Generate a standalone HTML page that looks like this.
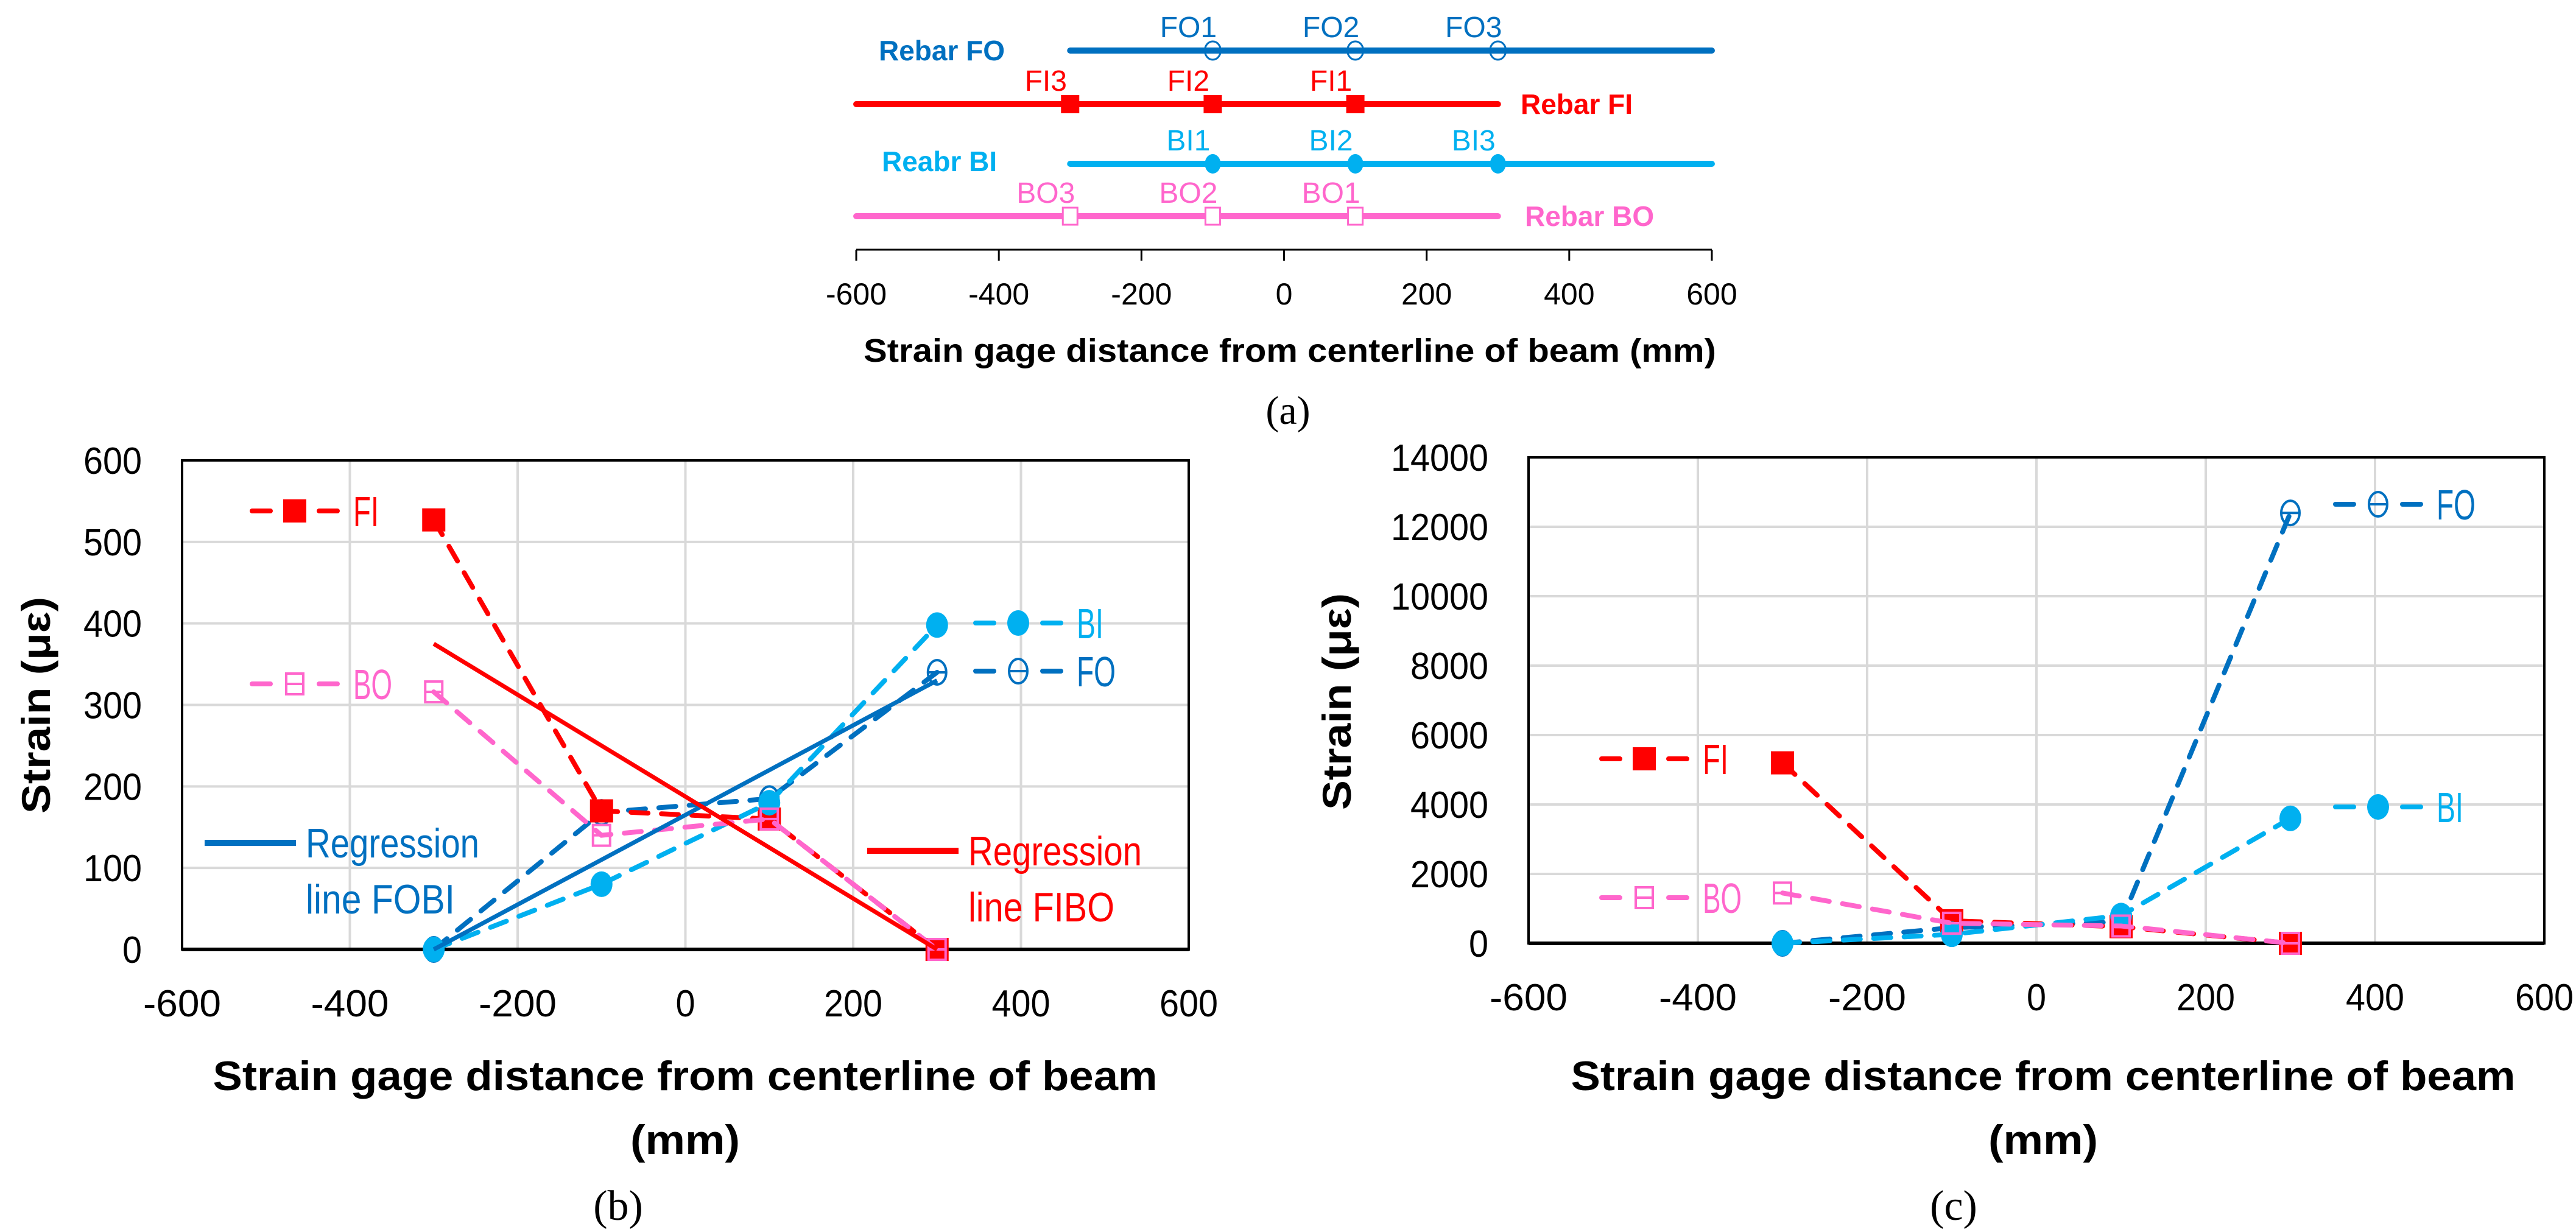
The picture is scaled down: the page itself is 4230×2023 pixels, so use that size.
<!DOCTYPE html>
<html><head><meta charset="utf-8"><style>
html,body{margin:0;padding:0;background:#fff}
svg{display:block}
text{font-family:"Liberation Sans",sans-serif}
text.serif{font-family:"Liberation Serif",serif}
</style></head><body>
<svg id="fig" width="4230" height="2023" viewBox="0 0 4230 2023" xmlns="http://www.w3.org/2000/svg"></svg>
<script>
// ---------- data ----------
const gaugePositions = [-300, -100, 100, 300];
const ticksX = [-600, -400, -200, 0, 200, 400, 600];
const ticksYb = [0, 100, 200, 300, 400, 500, 600];
const ticksYc = [0, 2000, 4000, 6000, 8000, 10000, 12000, 14000];
// panel (b)
const bFI = [527, 170, 160, 0];
const bBO = [316, 140, 160, 0];
const bBI = [0, 80, 180, 398];
const bFO = [0, 168, 185, 340];
const bRegFOBI = [0, 330];
const bRegFIBO = [375, 0];
// panel (c)
const cFI = [5200, 650, 480, 0];
const cBO = [1450, 580, 500, 0];
const cBI = [0, 260, 800, 3600];
const cFO = [0, 450, 620, 12400];
// panel (a) gauge positions
const aFOpos = [-100, 100, 300];
const aFIpos = [-300, -100, 100];
const aBIpos = [-100, 100, 300];
const aBOpos = [-300, -100, 100];
const aFOlab = ["FO1", "FO2", "FO3"];
const aFIlab = ["FI3", "FI2", "FI1"];
const aBIlab = ["BI1", "BI2", "BI3"];
const aBOlab = ["BO3", "BO2", "BO1"];

const C = {FO:"#0070C0", FI:"#FF0000", BI:"#00B0F0", BO:"#FF66CC"};
const NS = "http://www.w3.org/2000/svg";
const svg = document.getElementById("fig");
function el(tag, attrs, parent){
  const e = document.createElementNS(NS, tag);
  for (const k in attrs) e.setAttribute(k, attrs[k]);
  (parent||svg).appendChild(e);
  return e;
}
function txt(s, attrs, parent){ const t = el("text", attrs, parent); t.textContent = s; return t; }

// ---------- panel (a) ----------
const ax = v => 2108.5 + v * 1.1708;
const ga = el("g", {});


function rebar(name, color, y, x0, x1, pos, labs, marker, title, tx, ty, anchor){
  const g = el("g", {}, ga);
  
  
  el("line", {x1:ax(x0), x2:ax(x1), y1:y, y2:y, stroke:color, "stroke-width":10, "stroke-linecap":"round"}, g);
  pos.forEach((p, i) => {
    const x = ax(p);
    let m;
    if (marker === "open-circle") m = el("ellipse", {cx:x, cy:y, rx:13, ry:15, fill:"none", stroke:color, "stroke-width":3}, g);
    else if (marker === "square") m = el("rect", {x:x-15, y:y-15, width:30, height:30, fill:color}, g);
    else if (marker === "circle") m = el("ellipse", {cx:x, cy:y, rx:13, ry:16, fill:color}, g);
    else m = el("rect", {x:x-12, y:y-14, width:24, height:28, fill:"#fff", stroke:color, "stroke-width":3}, g);
    
    
    const t = txt(labs[i], {x:x-40, y:y-22, "text-anchor":"middle", "font-size":48, fill:color}, g);
    
    
  });
  const tt = txt(title, {x:tx, y:ty, "font-size":46, "font-weight":"bold", fill:color, "text-anchor":anchor}, g);
  
  
}
rebar("rebar-fo", C.FO, 83, -300, 600, aFOpos, aFOlab, "open-circle", "Rebar FO", 1443, 99, "start");
rebar("rebar-fi", C.FI, 171, -600, 300, aFIpos, aFIlab, "square", "Rebar FI", 2497, 187, "start");
rebar("rebar-bi", C.BI, 269, -300, 600, aBIpos, aBIlab, "circle", "Reabr BI", 1448, 281, "start");
rebar("rebar-bo", C.BO, 355, -600, 300, aBOpos, aBOlab, "open-square", "Rebar BO", 2504, 371, "start");
// axis a
const axA = el("g", {}, ga);


el("line", {x1:ax(-600), x2:ax(600), y1:410, y2:410, stroke:"#000", "stroke-width":3}, axA);
ticksX.forEach(v => {
  el("line", {x1:ax(v), x2:ax(v), y1:410, y2:428, stroke:"#000", "stroke-width":3}, axA);
  const t = txt(String(v), {x:ax(v), y:500, "text-anchor":"middle", "font-size":50, fill:"#000"}, axA);
  
  
});
const at = txt("Strain gage distance from centerline of beam (mm)", {x:2118, y:594, "text-anchor":"middle", "font-size":54, "font-weight":"bold", fill:"#000", textLength:1400, lengthAdjust:"spacingAndGlyphs"}, axA);


const capA = txt("(a)", {x:2115, y:696, "text-anchor":"middle", "font-size":66, "class":"serif", fill:"#000"});



// ---------- chart builder ----------
function chart(cfg){
  const g = el("g", {});
  
  
  const X = v => cfg.L + (v + 600) / 1200 * (cfg.R - cfg.L);
  const Y = v => cfg.B - v / cfg.ymax * (cfg.B - cfg.T);
  const grid = el("g", {}, g);
  
  
  ticksX.forEach(v => el("line", {x1:X(v), x2:X(v), y1:cfg.T, y2:cfg.B, stroke:"#d9d9d9", "stroke-width":4}, grid));
  cfg.ticksY.forEach(v => el("line", {x1:cfg.L, x2:cfg.R, y1:Y(v), y2:Y(v), stroke:"#d9d9d9", "stroke-width":4}, grid));
  const frame = el("rect", {x:cfg.L, y:cfg.T, width:cfg.R-cfg.L, height:cfg.B-cfg.T, fill:"none", stroke:"#000", "stroke-width":4}, g);
  
  
  el("line", {x1:cfg.L, x2:cfg.R, y1:cfg.B, y2:cfg.B, stroke:"#000", "stroke-width":6}, g);
  ticksX.forEach(v => {
    const t = txt(String(v), {x:X(v), y:cfg.B + 110, "text-anchor":"middle", "font-size":62, fill:"#000", textLength:String(v).length*32, lengthAdjust:"spacingAndGlyphs"}, g);
    
    
  });
  cfg.ticksY.forEach(v => {
    const t = txt(String(v), {x:cfg.L - 66, y:Y(v) + 22, "text-anchor":"end", "font-size":62, fill:"#000", textLength:String(v).length*32, lengthAdjust:"spacingAndGlyphs"}, g);
    
    
  });
  const yt = txt("Strain (με)", {x:0, y:0, "text-anchor":"middle", "font-size":66, "font-weight":"bold", fill:"#000", textLength:356, lengthAdjust:"spacingAndGlyphs", transform:`translate(${cfg.ytx},${cfg.yty}) rotate(-90)`}, g);
  
  
  const xt = txt("Strain gage distance from centerline of beam", {x:cfg.xtc, y:1790, "text-anchor":"middle", "font-size":68, "font-weight":"bold", fill:"#000", textLength:1551, lengthAdjust:"spacingAndGlyphs"}, g);
  
  
  const xt2 = txt("(mm)", {x:cfg.xtc, y:1895, "text-anchor":"middle", "font-size":68, "font-weight":"bold", fill:"#000", textLength:180, lengthAdjust:"spacingAndGlyphs"}, g);
  
  
  const cap = txt(cfg.caption, {x:cfg.capx, y:2003, "text-anchor":"middle", "font-size":70, "class":"serif", fill:"#000"}, g);
  
  

  function marker(parent, kind, color, x, y){
    let m;
    if (kind === "square") m = el("rect", {x:x-19, y:y-19, width:38, height:38, fill:color}, parent);
    else if (kind === "circle") m = el("ellipse", {cx:x, cy:y, rx:18, ry:21, fill:color}, parent);
    else if (kind === "open-square") { m = el("g", {}, parent);
      el("rect", {x:x-14, y:y-17, width:28, height:34, fill:"none", stroke:color, "stroke-width":4}, m);
      el("line", {x1:x-14, x2:x+14, y1:y, y2:y, stroke:color, "stroke-width":4}, m); }
    else { m = el("g", {}, parent);
      el("ellipse", {cx:x, cy:y, rx:15, ry:20, fill:"none", stroke:color, "stroke-width":4}, m);
      el("line", {x1:x-15, x2:x+15, y1:y, y2:y, stroke:color, "stroke-width":4}, m); }
    return m;
  }
  cfg.series.forEach(s => {
    const sg = el("g", {}, g);
    
    
    const pts = gaugePositions.map((p, i) => X(p) + "," + Y(s.vals[i])).join(" ");
    el("polyline", {points:pts, fill:"none", stroke:C[s.key], "stroke-width":8, "stroke-dasharray":"28 22", "stroke-linecap":"round"}, sg);
    gaugePositions.forEach((p, i) => {
      const m = marker(sg, s.marker, C[s.key], X(p), Y(s.vals[i]));
      
      
    });
    const lg = el("g", {}, g);
    
    
    const lx = s.lx, ly = s.ly;
    el("line", {x1:lx-70, x2:lx-40, y1:ly, y2:ly, stroke:C[s.key], "stroke-width":8, "stroke-linecap":"round"}, lg);
    el("line", {x1:lx+40, x2:lx+70, y1:ly, y2:ly, stroke:C[s.key], "stroke-width":8, "stroke-linecap":"round"}, lg);
    marker(lg, s.marker, C[s.key], lx, ly);
    txt(s.key, {x:lx+96, y:ly+25, "font-size":70, fill:C[s.key], textLength:s.key==="FI"?42:s.key==="BI"?44:64, lengthAdjust:"spacingAndGlyphs"}, lg);
  });
  if (cfg.regs) cfg.regs.forEach(r => {
    const rg = el("g", {}, g);
    
    
    el("line", {x1:X(-300), y1:Y(r.vals[0]), x2:X(300), y2:Y(r.vals[1]), stroke:r.color, "stroke-width":7}, rg);
    el("line", {x1:r.lx, x2:r.lx+150, y1:r.ly, y2:r.ly, stroke:r.color, "stroke-width":10}, rg);
    txt("Regression", {x:r.lx+166, y:r.ly+24, "font-size":68, fill:r.color, textLength:285, lengthAdjust:"spacingAndGlyphs"}, rg);
    txt(r.label, {x:r.lx+166, y:r.ly+116, "font-size":68, fill:r.color, textLength:r.tw, lengthAdjust:"spacingAndGlyphs"}, rg);
  });
}

chart({name:"chart-panel-b", L:299, R:1952, T:756, B:1559, ymax:600, ticksY:ticksYb,
  ytx:82, yty:1158, xtc:1125, caption:"(b)", capx:1015,
  series:[
    {key:"FO", vals:bFO, marker:"open-circle", lx:1672, ly:1102},
    {key:"FI", vals:bFI, marker:"square", lx:484, ly:839},
    {key:"BI", vals:bBI, marker:"circle", lx:1672, ly:1023},
    {key:"BO", vals:bBO, marker:"open-square", lx:484, ly:1123}
  ],
  regs:[
    {name:"regression-fobi", vals:bRegFOBI, color:C.FO, lx:336, ly:1384, label:"line FOBI", tw:245},
    {name:"regression-fibo", vals:bRegFIBO, color:C.FI, lx:1424, ly:1397, label:"line FIBO", tw:240}
  ]});

chart({name:"chart-panel-c", L:2510, R:4178, T:751, B:1549, ymax:14000, ticksY:ticksYc,
  ytx:2218, yty:1152, xtc:3355, caption:"(c)", capx:3208,
  series:[
    {key:"FO", vals:cFO, marker:"open-circle", lx:3905, ly:828},
    {key:"FI", vals:cFI, marker:"square", lx:2700, ly:1246},
    {key:"BI", vals:cBI, marker:"circle", lx:3905, ly:1325},
    {key:"BO", vals:cBO, marker:"open-square", lx:2700, ly:1474}
  ]});
</script>
</body></html>
